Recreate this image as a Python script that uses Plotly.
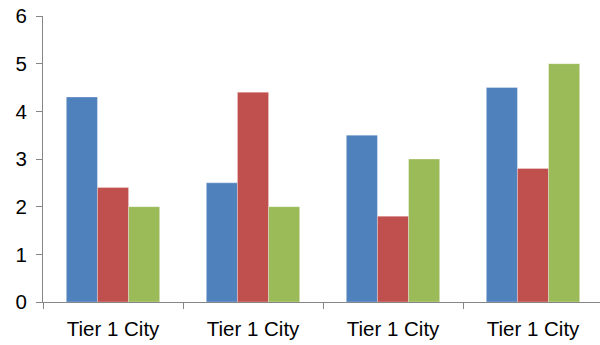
import plotly.graph_objects as go

categories = ["Tier 1 City", "Tier 1 City", "Tier 1 City", "Tier 1 City"]
series1 = [4.3, 2.5, 3.5, 4.5]
series2 = [2.4, 4.4, 1.8, 2.8]
series3 = [2.0, 2.0, 3.0, 5.0]
y_ticks = [0, 1, 2, 3, 4, 5, 6]

positions = list(range(len(categories)))
colors = ["#4F81BD", "#C0504D", "#9BBB59"]

fig = go.Figure()
for name, vals, c in [("Series 1", series1, colors[0]),
                      ("Series 2", series2, colors[1]),
                      ("Series 3", series3, colors[2])]:
    fig.add_trace(go.Bar(x=positions, y=vals, name=name,
                         marker=dict(color=c, line=dict(color="rgba(255,255,255,0.5)", width=0.6))))

axis_color = "#868686"
font = dict(family="Liberation Sans, Arial, sans-serif", size=20.5, color="#000000")

fig.update_layout(
    width=600, height=345,
    margin=dict(l=43, r=0, t=15.5, b=42.5),
    paper_bgcolor="white", plot_bgcolor="white",
    barmode="group", bargap=1/3, bargroupgap=0,
    showlegend=False,
    font=font,
    xaxis=dict(
        range=[-0.5, -0.5 + 557/140],
        tickmode="array", tickvals=positions, ticktext=categories,
        ticks="", showgrid=False, zeroline=False,
        showline=True, linecolor=axis_color, linewidth=1,
        tickfont=font, ticklabelstandoff=8,
        minor=dict(tick0=-0.5, dtick=1, ticks="outside", ticklen=6,
                   tickcolor=axis_color, tickwidth=1, showgrid=False),
    ),
    yaxis=dict(
        range=[0, 6], tickmode="array", tickvals=y_ticks,
        ticks="outside", ticklen=6, tickcolor=axis_color, tickwidth=1,
        showgrid=False, zeroline=False,
        showline=True, linecolor=axis_color, linewidth=1,
        tickfont=font, ticklabelstandoff=5,
    ),
)

fig.write_html("out.html")
